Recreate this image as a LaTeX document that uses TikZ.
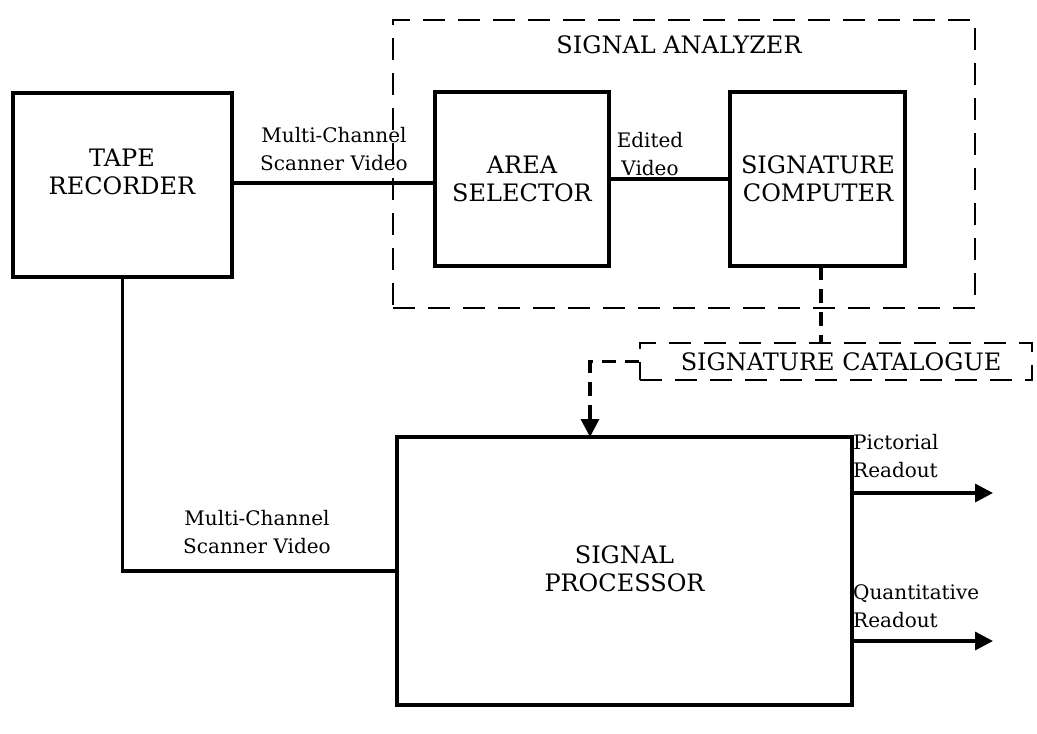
\documentclass[tikz,border=0pt]{standalone}
\usepackage{fontspec}
\setmainfont{DejaVu Serif}
\usetikzlibrary{arrows.meta}
\begin{document}
\begin{tikzpicture}[x=1pt,y=-1pt,
  blk/.style={draw,line width=3.4pt,inner sep=0pt},
  dbox/.style={draw,line width=2.6pt,dash pattern=on 22pt off 13pt,inner sep=0pt},
  dline/.style={line width=3.2pt,dash pattern=on 14pt off 9pt},
  wire/.style={line width=3.4pt},
  arr/.style={line width=3.4pt,-{Triangle[length=18pt,width=18pt]}},
  capt/.style={font=\fontsize{24}{28}\selectfont,align=center,inner sep=0pt},
  lbl/.style={font=\fontsize{20}{28}\selectfont,align=center,inner sep=0pt},
  lbll/.style={font=\fontsize{20}{28}\selectfont,align=left,inner sep=0pt,anchor=west}]
\useasboundingbox (0,0) rectangle (1037,734);
\fill[white] (0,0) rectangle (1037,734);
% blocks
\node[blk,minimum width=219pt,minimum height=184pt] (tape) at (122.5,185) {};
\node[capt] (tapet) at (122,172) {TAPE\\RECORDER};
\node[dbox,minimum width=582pt,minimum height=288pt] (ana) at (684,164) {};
\node[capt] (anat) at (679,45) {SIGNAL ANALYZER};
\node[blk,minimum width=174pt,minimum height=174pt] (area) at (522,179) {};
\node[capt] (areat) at (522,179) {AREA\\SELECTOR};
\node[blk,minimum width=175pt,minimum height=174pt] (sig) at (817.5,179) {};
\node[capt] (sigt) at (818,179) {SIGNATURE\\COMPUTER};
\node[dbox,minimum width=392pt,minimum height=37pt] (cat) at (836,361.5) {};
\node[capt] (catt) at (841,362) {SIGNATURE CATALOGUE};
\node[blk,minimum width=455pt,minimum height=268pt] (proc) at (624.5,571) {};
\node[capt] (proct) at (624.5,569) {SIGNAL\\PROCESSOR};
% labels
\node[lbl] (l1) at (334,149) {Multi-Channel\\Scanner Video};
\node[lbl] (l2) at (650,154) {Edited\\Video};
\node[lbl] (l3) at (257,532) {Multi-Channel\\Scanner Video};
\node[lbll] (l4) at (853,456) {Pictorial\\Readout};
\node[lbll] (l5) at (853,606) {Quantitative\\Readout};
% connectors
\draw[wire] (tape.east |- 0,183) -- (area.west |- 0,183);
\draw[wire] (area.east) -- (sig.west);
\draw[wire] (tape.south) |- (proc.west);
\coordinate (pic) at (993,493);
\coordinate (qua) at (993,641);
\draw[arr] (proc.east |- pic) -- (pic);
\draw[arr] (proc.east |- qua) -- (qua);
\coordinate (cs) at (821,266);
\draw[dline] (cs) -- (cs |- cat.north);
\coordinate (ct) at (590,437);
\draw[dline] (cat.west) -| ([yshift=16pt]ct);
\draw[arr] ([yshift=18pt]ct) -- (ct);
\end{tikzpicture}
\end{document}
